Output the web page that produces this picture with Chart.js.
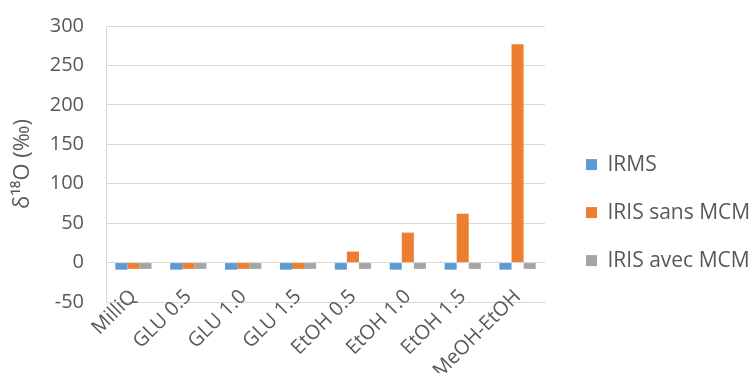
<!DOCTYPE html>
<html>
<head>
<meta charset="utf-8">
<script src="https://cdn.jsdelivr.net/npm/chart.js@4/dist/chart.umd.min.js"></script>
<style>
  html, body { margin: 0; padding: 0; background: #fff; }
  #wrap { width: 752px; height: 373px; }
</style>
</head>
<body>
<div id="wrap"><canvas id="chart" width="752" height="373"></canvas></div>
<script>
// echantillons et valeurs
const categories = ['MilliQ', 'GLU 0.5', 'GLU 1.0', 'GLU 1.5', 'EtOH 0.5', 'EtOH 1.0', 'EtOH 1.5', 'MeOH-EtOH'];
const irms     = [-9, -9, -9, -9, -9, -9, -9, -9];
const irisSans = [-8, -8, -8, -8, 14, 38, 62, 277];
const irisAvec = [-8, -8, -8, -8, -8, -8, -8, -8];
const yTicks   = [-50, 0, 50, 100, 150, 200, 250, 300];

const font = 'Open Sans';
const textColor = '#595959';
const gridColor = '#d9d9d9';

// largeur fixe de la legende, puis on decale les entrees vers la droite
const legendGap = {
    id: 'legendGap',
    beforeLayout(chart) {
        const lg = chart.legend;
        if (!lg || lg._gapPatched) return;
        const fit = lg.fit;
        lg.fit = function() { fit.apply(this, arguments); this.width = 207; };
        lg._gapPatched = true;
    },
    afterLayout(chart) {
        if (chart.legend) chart.legend.left += 14;
    }
};

new Chart(document.getElementById('chart').getContext('2d'), {
    type: 'bar',
    data: {
        labels: categories,
        datasets: [
            { label: 'IRMS', data: irms, backgroundColor: '#5b9bd5' },
            { label: 'IRIS sans MCM', data: irisSans, backgroundColor: '#ed7d31' },
            { label: 'IRIS avec MCM', data: irisAvec, backgroundColor: '#a5a5a5' }
        ]
    },
    options: {
        responsive: false,
        animation: false,
        layout: { padding: { top: 26, left: 0, right: 0, bottom: 0 } },
        datasets: { bar: { categoryPercentage: 0.66, barPercentage: 1 } },
        scales: {
            x: {
                grid: { display: false },
                border: { color: gridColor },
                ticks: { color: textColor, font: { family: font, size: 20 }, minRotation: 45, maxRotation: 45, padding: -25 },
                afterFit(scale) {
                    scale.height = 71;
                    scale.paddingLeft = 0;
                    scale.paddingRight = 0;
                    // les etiquettes debordent un peu au-dessus de l'axe, comme dans Excel
                    scale._computeLabelArea = () => undefined;
                }
            },
            y: {
                min: yTicks[0],
                max: yTicks[yTicks.length - 1],
                afterBuildTicks(scale) { scale.ticks = yTicks.map(v => ({ value: v })); },
                grid: { color: gridColor, drawTicks: false },
                border: { display: true, color: gridColor },
                ticks: { color: textColor, font: { family: font, size: 20 }, padding: 22 },
                title: { display: true, text: 'δ¹⁸O (‰)', color: textColor, font: { family: font, size: 22 }, padding: { top: 10, bottom: 0 } },
                afterFit(scale) { scale.width = 106; scale.paddingTop = 0; scale.paddingBottom = 0; }
            }
        },
        plugins: {
            legend: {
                position: 'right',
                title: { display: true, text: '', font: { size: 1 }, padding: { top: 25, bottom: 0 } },
                labels: { color: textColor, font: { family: font, size: 21 }, boxWidth: 11, boxHeight: 11, padding: 27 }
            },
            tooltip: { enabled: false }
        }
    },
    plugins: [legendGap]
});
</script>
</body>
</html>
